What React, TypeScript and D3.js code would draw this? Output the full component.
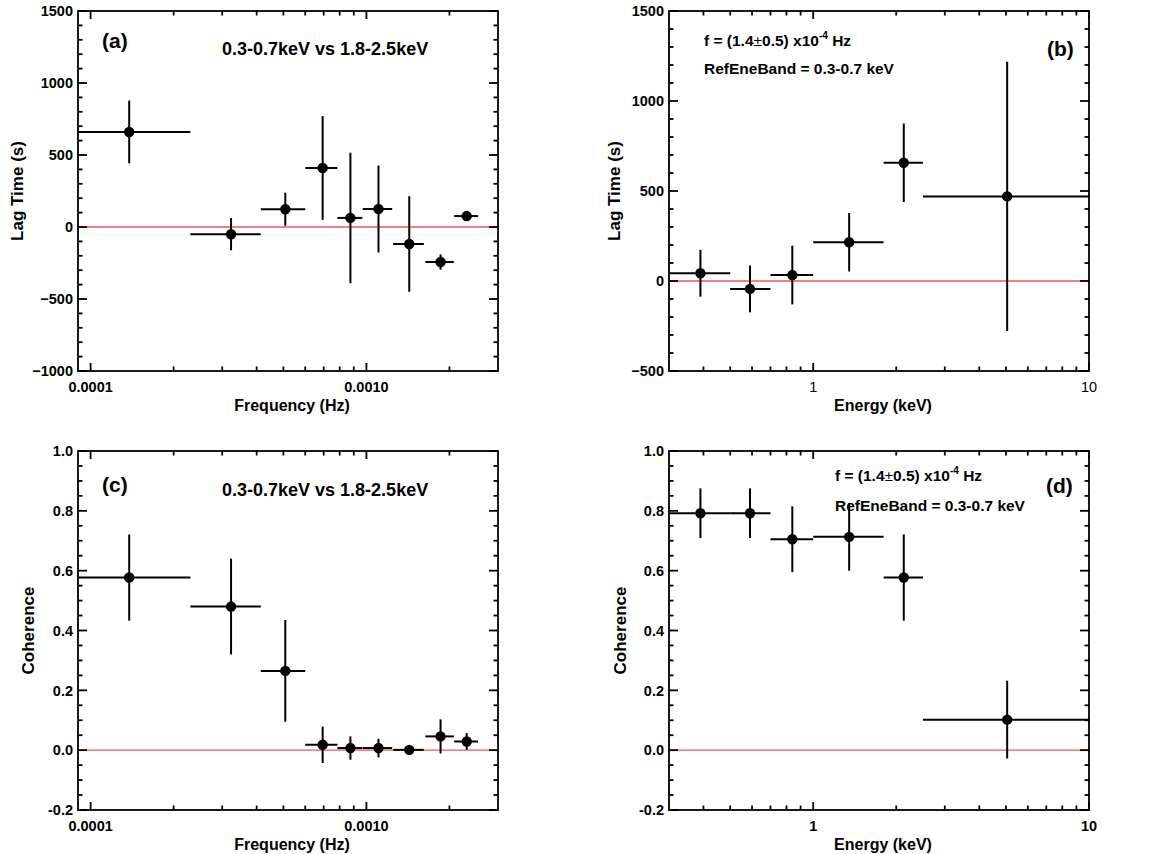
import React from "react";
import * as d3 from "d3";

// ---------- data ----------
const freqCenter = [1.38e-4, 3.23e-4, 5.08e-4, 6.94e-4, 8.75e-4, 1.106e-3, 1.43e-3, 1.857e-3, 2.31e-3];
const freqLo = [4.6e-5, 2.3e-4, 4.14e-4, 6.0e-4, 7.85e-4, 9.7e-4, 1.25e-3, 1.635e-3, 2.08e-3];
const freqHi = [2.3e-4, 4.14e-4, 6.0e-4, 7.85e-4, 9.67e-4, 1.24e-3, 1.615e-3, 2.075e-3, 2.54e-3];
const lagFreq = [660, -50, 123, 410, 63, 125, -118, -243, 76];
const lagFreqErr = [218, 112, 115, 360, 453, 302, 332, 53, 14];
const cohFreq = [0.577, 0.48, 0.265, 0.018, 0.007, 0.007, 0.001, 0.046, 0.029];
const cohFreqErr = [0.144, 0.16, 0.17, 0.061, 0.039, 0.031, 0.005, 0.057, 0.028];

const energyCenter = [0.39, 0.59, 0.84, 1.35, 2.13, 5.05];
const energyLo = [0.3, 0.5, 0.7, 1.0, 1.8, 2.5];
const energyHi = [0.5, 0.7, 1.0, 1.8, 2.5, 10];
const lagEnergy = [43, -44, 33, 215, 657, 470];
const lagEnergyErr = [130, 130, 163, 162, 218, 748];
const cohEnergy = [0.792, 0.792, 0.705, 0.713, 0.577, 0.102];
const cohEnergyErr = [0.083, 0.083, 0.11, 0.113, 0.144, 0.13];

const freqMajor = [1e-4, 1e-3];
const freqMajorLabels = ["0.0001", "0.0010"];
const energyMajor = [1, 10];
const energyMajorLabels = ["1", "10"];

const FONT = "'Liberation Sans', Arial, Helvetica, sans-serif";

type PanelProps = {
  id: string;
  left: number; right: number; top: number; bottom: number;
  xDomain: [number, number];
  yDomain: [number, number];
  yMajorStep: number; yMinorStep: number; yFmt: (v: number) => string;
  xMajor: number[]; xMajorLabels: string[]; xLabelBold: boolean;
  xc: number[]; xlo: number[]; xhi: number[]; y: number[]; yerr: number[];
  xTitle: string; yTitle: string; yTitleX: number;
  children?: React.ReactNode;
};

function Panel(p: PanelProps) {
  const x = d3.scaleLog().domain(p.xDomain).range([p.left, p.right]);
  const y = d3.scaleLinear().domain(p.yDomain).range([p.bottom, p.top]);
  const eps = 1e-9;
  const yMajor = d3.range(p.yDomain[0], p.yDomain[1] + p.yMajorStep * 0.01, p.yMajorStep);
  const yMinor = d3.range(p.yDomain[0], p.yDomain[1] + p.yMinorStep * 0.01, p.yMinorStep)
    .filter((v) => !yMajor.some((m) => Math.abs(m - v) < p.yMinorStep * 0.01));
  const xMinor = x.ticks().filter((v) => !p.xMajor.some((m) => Math.abs(m - v) / m < 1e-6))
    .filter((v) => v >= p.xDomain[0] * (1 + eps) && v <= p.xDomain[1] * (1 - eps));
  const clipId = "clip-" + p.id;
  const black = "#000";
  const lw = 1.8;
  const yMajLen = 9, yMinLen = 4.5, xMajLen = 8, xMinLen = 4.5;
  return (
    <g>
      <defs>
        <clipPath id={clipId}>
          <rect x={p.left} y={p.top} width={p.right - p.left} height={p.bottom - p.top} />
        </clipPath>
      </defs>
      <g clipPath={`url(#${clipId})`}>
        <line x1={p.left} x2={p.right} y1={y(0)} y2={y(0)} stroke="#ee5a5a" strokeWidth={1.4} />
        {p.xc.map((xv, i) => (
          <g key={i}>
            <line x1={x(p.xlo[i])} x2={x(p.xhi[i])} y1={y(p.y[i])} y2={y(p.y[i])} stroke={black} strokeWidth={2} />
            <line x1={x(xv)} x2={x(xv)} y1={y(p.y[i] - p.yerr[i])} y2={y(p.y[i] + p.yerr[i])} stroke={black} strokeWidth={2} />
            <circle cx={x(xv)} cy={y(p.y[i])} r={5.2} fill={black} />
          </g>
        ))}
      </g>
      {/* frame */}
      <rect x={p.left} y={p.top} width={p.right - p.left} height={p.bottom - p.top} fill="none" stroke={black} strokeWidth={lw} />
      {/* y ticks */}
      {yMajor.map((v, i) => (
        <g key={"ym" + i}>
          <line x1={p.left} x2={p.left + yMajLen} y1={y(v)} y2={y(v)} stroke={black} strokeWidth={lw} />
          <line x1={p.right} x2={p.right - yMajLen} y1={y(v)} y2={y(v)} stroke={black} strokeWidth={lw} />
          <text x={p.left - 5} y={y(v)} dy="0.36em" textAnchor="end" fontFamily={FONT} fontWeight="bold" fontSize={14.5}>{p.yFmt(v)}</text>
        </g>
      ))}
      {yMinor.map((v, i) => (
        <g key={"yn" + i}>
          <line x1={p.left} x2={p.left + yMinLen} y1={y(v)} y2={y(v)} stroke={black} strokeWidth={lw} />
          <line x1={p.right} x2={p.right - yMinLen} y1={y(v)} y2={y(v)} stroke={black} strokeWidth={lw} />
        </g>
      ))}
      {/* x ticks */}
      {p.xMajor.map((v, i) => (
        <g key={"xm" + i}>
          <line x1={x(v)} x2={x(v)} y1={p.bottom} y2={p.bottom - xMajLen} stroke={black} strokeWidth={lw} />
          <line x1={x(v)} x2={x(v)} y1={p.top} y2={p.top + xMajLen} stroke={black} strokeWidth={lw} />
          <text x={x(v)} y={p.bottom + 21} textAnchor="middle" fontFamily={FONT} fontWeight={p.xLabelBold ? "bold" : "normal"} fontSize={14.5}>{p.xMajorLabels[i]}</text>
        </g>
      ))}
      {xMinor.map((v, i) => (
        <g key={"xn" + i}>
          <line x1={x(v)} x2={x(v)} y1={p.bottom} y2={p.bottom - xMinLen} stroke={black} strokeWidth={lw} />
          <line x1={x(v)} x2={x(v)} y1={p.top} y2={p.top + xMinLen} stroke={black} strokeWidth={lw} />
        </g>
      ))}
      {/* titles */}
      <text x={(p.left + p.right) / 2 + 4} y={p.bottom + 40} textAnchor="middle" fontFamily={FONT} fontWeight="bold" fontSize={16}>{p.xTitle}</text>
      <text transform={`translate(${p.yTitleX},${(p.top + p.bottom) / 2}) rotate(-90)`} textAnchor="middle" fontFamily={FONT} fontWeight="bold" fontSize={17}>{p.yTitle}</text>
      {p.children}
    </g>
  );
}

function FreqNote({ x, y }: { x: number; y: number }) {
  return (
    <text x={x} y={y} fontFamily={FONT} fontWeight="bold" fontSize={15.5}>
      f = (1.4<tspan fontWeight="normal">±</tspan>0.5) x10<tspan fontSize={10} dy={-7}>-4</tspan><tspan dy={7}> Hz</tspan>
    </text>
  );
}

export default function App() {
  const lagFmt = (v: number) => d3.format("d")(Math.round(v));
  const cohFmt = (v: number) => (Math.abs(v) < 1e-9 ? 0 : v).toFixed(1);
  return (
    <svg width={1154} height={854} style={{ position: "absolute", left: 0, top: 0, background: "#fff" }}>
      <rect width={1154} height={854} fill="#fff" />
      <Panel id="a" left={78} right={498} top={11} bottom={371}
        xDomain={[9e-5, 3e-3]} yDomain={[-1000, 1500]} yMajorStep={500} yMinorStep={100} yFmt={lagFmt}
        xMajor={freqMajor} xMajorLabels={freqMajorLabels} xLabelBold={true}
        xc={freqCenter} xlo={freqLo} xhi={freqHi} y={lagFreq} yerr={lagFreqErr}
        xTitle="Frequency (Hz)" yTitle="Lag Time (s)" yTitleX={23}>
        <text x={102} y={48} fontFamily={FONT} fontWeight="bold" fontSize={21}>(a)</text>
        <text x={222} y={54.5} fontFamily={FONT} fontWeight="bold" fontSize={18}>0.3-0.7keV vs 1.8-2.5keV</text>
      </Panel>
      <Panel id="b" left={669} right={1089} top={11} bottom={371}
        xDomain={[0.3, 10]} yDomain={[-500, 1500]} yMajorStep={500} yMinorStep={100} yFmt={lagFmt}
        xMajor={energyMajor} xMajorLabels={energyMajorLabels} xLabelBold={false}
        xc={energyCenter} xlo={energyLo} xhi={energyHi} y={lagEnergy} yerr={lagEnergyErr}
        xTitle="Energy (keV)" yTitle="Lag Time (s)" yTitleX={620}>
        <FreqNote x={704} y={46} />
        <text x={704} y={74} fontFamily={FONT} fontWeight="bold" fontSize={15.5}>RefEneBand = 0.3-0.7 keV</text>
        <text x={1047} y={56} fontFamily={FONT} fontWeight="bold" fontSize={21}>(b)</text>
      </Panel>
      <Panel id="c" left={78} right={498} top={451} bottom={810}
        xDomain={[9e-5, 3e-3]} yDomain={[-0.2, 1.0]} yMajorStep={0.2} yMinorStep={0.05} yFmt={cohFmt}
        xMajor={freqMajor} xMajorLabels={freqMajorLabels} xLabelBold={true}
        xc={freqCenter} xlo={freqLo} xhi={freqHi} y={cohFreq} yerr={cohFreqErr}
        xTitle="Frequency (Hz)" yTitle="Coherence" yTitleX={34}>
        <text x={102} y={492} fontFamily={FONT} fontWeight="bold" fontSize={21}>(c)</text>
        <text x={222} y={496} fontFamily={FONT} fontWeight="bold" fontSize={18}>0.3-0.7keV vs 1.8-2.5keV</text>
      </Panel>
      <Panel id="d" left={669} right={1089} top={451} bottom={810}
        xDomain={[0.3, 10]} yDomain={[-0.2, 1.0]} yMajorStep={0.2} yMinorStep={0.05} yFmt={cohFmt}
        xMajor={energyMajor} xMajorLabels={energyMajorLabels} xLabelBold={true}
        xc={energyCenter} xlo={energyLo} xhi={energyHi} y={cohEnergy} yerr={cohEnergyErr}
        xTitle="Energy (keV)" yTitle="Coherence" yTitleX={626}>
        <FreqNote x={835} y={481} />
        <text x={835} y={511} fontFamily={FONT} fontWeight="bold" fontSize={15.5}>RefEneBand = 0.3-0.7 keV</text>
        <text x={1046} y={493} fontFamily={FONT} fontWeight="bold" fontSize={21}>(d)</text>
      </Panel>
    </svg>
  );
}
